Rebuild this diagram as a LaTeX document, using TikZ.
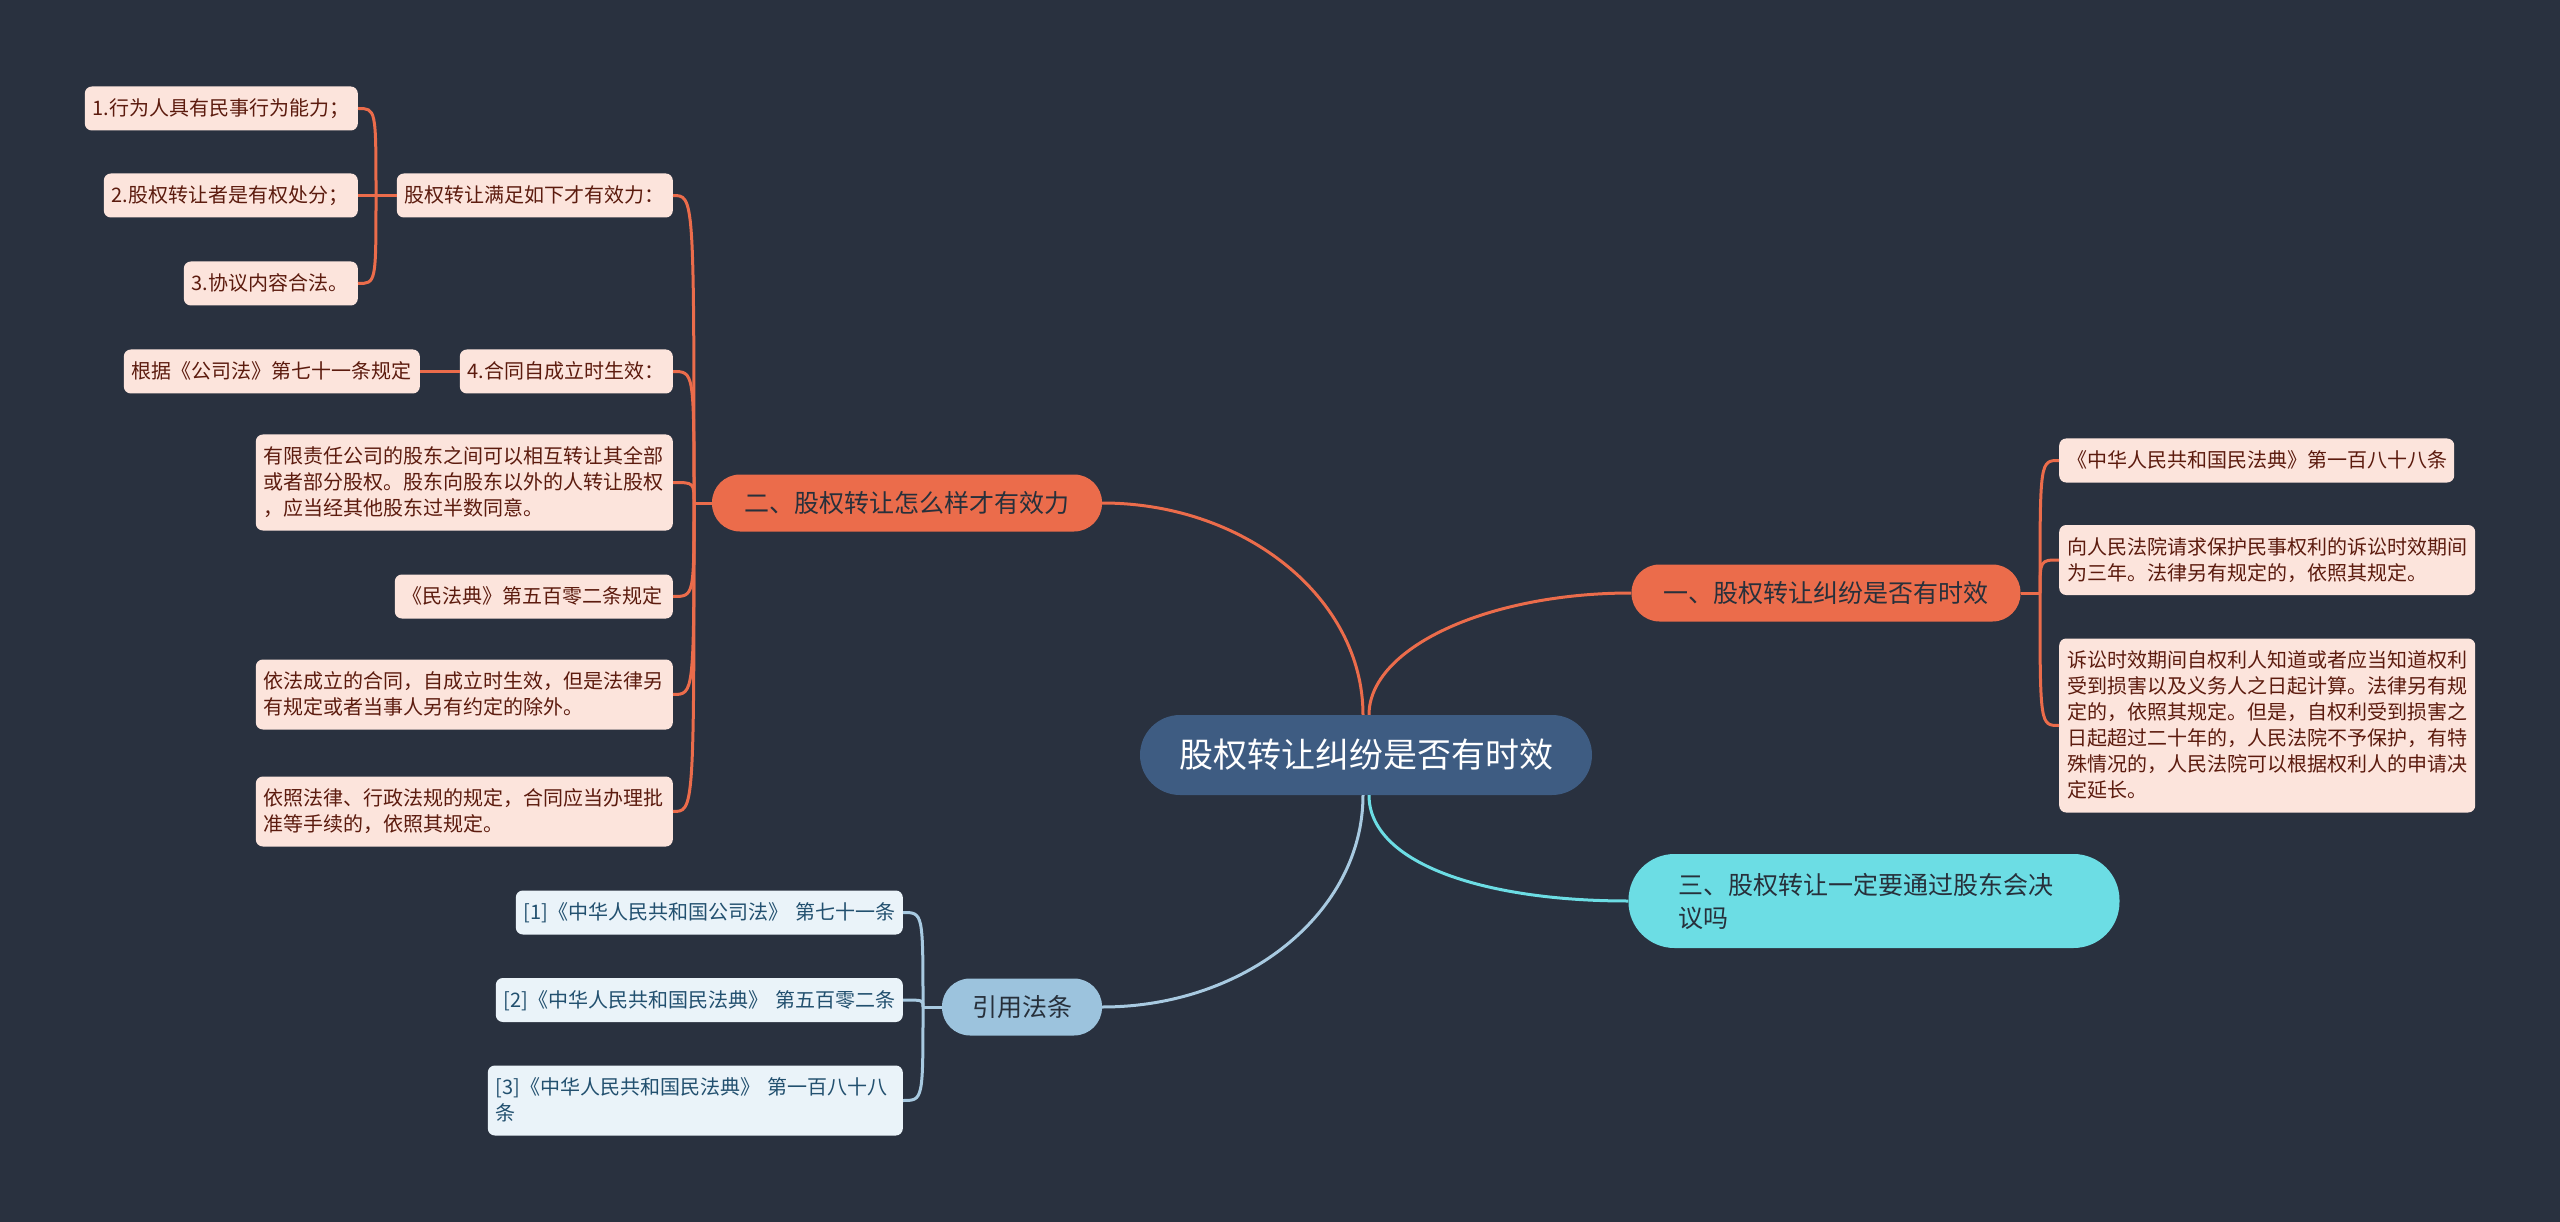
\documentclass[tikz,border=0pt]{standalone}
\usepackage{fontspec}
\setmainfont{Noto Sans CJK SC}
\usetikzlibrary{positioning}

\definecolor{bgdark}{HTML}{29313F}
\definecolor{rootblue}{HTML}{3E5C82}
\definecolor{orangemain}{HTML}{EB6C4B}
\definecolor{orangeleaf}{HTML}{FCE4DC}
\definecolor{orangetext}{HTML}{5C1B0E}
\definecolor{cyanmain}{HTML}{6CDDE4}
\definecolor{bluemain}{HTML}{9CC3DD}
\definecolor{blueline}{HTML}{A8CAE1}
\definecolor{blueleaf}{HTML}{EAF3F9}
\definecolor{bluetext}{HTML}{22506F}
\definecolor{darktext}{HTML}{27303B}

\newcommand{\leafstrut}{\rule[-6pt]{0pt}{26pt}}

\begin{document}
\begin{tikzpicture}[x=1pt, y=-1pt,
    rootnode/.style={fill=rootblue, text=white, rounded corners=40pt, minimum width=452pt, minimum height=80pt, font=\fontsize{34}{40}\selectfont},
    branchnode/.style={fill=#1, text=darktext, rounded corners=28pt, minimum height=57pt, font=\fontsize{25}{33}\selectfont},
    leafnode/.style={fill=orangeleaf, text=orangetext, rounded corners=7pt, inner xsep=8pt, inner ysep=9pt, align=left, font=\fontsize{20}{26}\selectfont, execute at begin node=\leafstrut, execute at end node=\leafstrut},
    refnode/.style={leafnode, fill=blueleaf, text=bluetext},
    linkline/.style={draw=#1, line width=3pt}
]

    % Background
    \fill[bgdark] (0,0) rectangle (2560,1222);

    % Root and main branches
    \node[rootnode] (root) at (1366,755) {股权转让纠纷是否有时效};
    \node[branchnode=orangemain, minimum width=389pt] (b1) at (1826,593) {一、股权转让纠纷是否有时效};
    \node[branchnode=orangemain, minimum width=390pt] (b2) at (907,503) {二、股权转让怎么样才有效力};
    \node[branchnode=cyanmain, text width=391pt, inner xsep=50pt, align=left, minimum height=94pt, rounded corners=46pt] (b3) at (1874,901) {三、股权转让一定要通过股东会决\\议吗};
    \node[branchnode=bluemain, minimum width=160pt] (b4) at (1022,1007) {引用法条};

    \draw[linkline=orangemain] ([xshift=3pt]root.north) .. controls (1369,648) and (1487,593) .. (b1.west);
    \draw[linkline=orangemain] ([xshift=-3pt]root.north) .. controls (1363,599) and (1246,503) .. (b2.east);
    \draw[linkline=cyanmain] ([xshift=3pt]root.south) .. controls (1369,862) and (1480,901) .. (b3.west);
    \draw[linkline=blueline] ([xshift=-3pt]root.south) .. controls (1363,912) and (1246,1007) .. (b4.east);

    % Branch one leaves
    \node[leafnode, anchor=west, text width=379pt] (c1) at (2059,460.5) {《中华人民共和国民法典》第一百八十八条};
    \node[leafnode, anchor=west, text width=400pt] (c2) at (2059,560) {向人民法院请求保护民事权利的诉讼时效期间\\为三年。法律另有规定的，依照其规定。};
    \node[leafnode, anchor=west, text width=400pt] (c3) at (2059,725.5) {诉讼时效期间自权利人知道或者应当知道权利\\受到损害以及义务人之日起计算。法律另有规\\定的，依照其规定。但是，自权利受到损害之\\日起超过二十年的，人民法院不予保护，有特\\殊情况的，人民法院可以根据权利人的申请决\\定延长。};

    \coordinate (j1) at (2040,593);
    \draw[linkline=orangemain] (b1.east) -- (j1);
    \foreach \c in {c1,c2,c3}
        \draw[linkline=orangemain] (j1) .. controls (j1 |- \c.west) .. (\c.west);

    % Branch two leaves
    \node[leafnode, anchor=east, text width=260pt] (v1) at (673,195.5) {股权转让满足如下才有效力：};
    \node[leafnode, anchor=east, text width=257pt] (n1) at (358,108.5) {1.行为人具有民事行为能力；};
    \node[leafnode, anchor=east, text width=238pt] (n2) at (358,195.5) {2.股权转让者是有权处分；};
    \node[leafnode, anchor=east, text width=158pt] (n3) at (358,283.5) {3.协议内容合法。};
    \node[leafnode, anchor=east, text width=197pt] (v4) at (673,371.5) {4.合同自成立时生效：};
    \node[leafnode, anchor=east, text width=280pt] (law1) at (420,371.5) {根据《公司法》第七十一条规定};
    \node[leafnode, anchor=east, text width=401pt] (t1) at (673,482.5) {有限责任公司的股东之间可以相互转让其全部\\或者部分股权。股东向股东以外的人转让股权\\，应当经其他股东过半数同意。};
    \node[leafnode, anchor=east, text width=262pt] (t2) at (673,596.5) {《民法典》第五百零二条规定};
    \node[leafnode, anchor=east, text width=401pt] (t3) at (673,694.5) {依法成立的合同，自成立时生效，但是法律另\\有规定或者当事人另有约定的除外。};
    \node[leafnode, anchor=east, text width=401pt] (t4) at (673,811.5) {依照法律、行政法规的规定，合同应当办理批\\准等手续的，依照其规定。};

    \coordinate (j2) at (694,503);
    \draw[linkline=orangemain] (b2.west) -- (j2);
    \foreach \c in {v1,v4,t1,t2,t3,t4}
        \draw[linkline=orangemain] (j2) .. controls (j2 |- \c.east) .. (\c.east);

    \coordinate (j3) at (376,195.5);
    \draw[linkline=orangemain] (v1.west) -- (j3);
    \foreach \c in {n1,n2,n3}
        \draw[linkline=orangemain] (j3) .. controls (j3 |- \c.east) .. (\c.east);

    \draw[linkline=orangemain] (v4.west) -- (law1.east);

    % Cited articles
    \node[refnode, anchor=east, text width=371pt] (r1) at (903,912.5) {[1]《中华人民共和国公司法》~第七十一条};
    \node[refnode, anchor=east, text width=391pt] (r2) at (903,1000) {[2]《中华人民共和国民法典》~第五百零二条};
    \node[refnode, anchor=east, text width=399pt] (r3) at (903,1100.5) {[3]《中华人民共和国民法典》~第一百八十八\\条};

    \coordinate (j4) at (923,1007);
    \draw[linkline=blueline] (b4.west) -- (j4);
    \foreach \c in {r1,r2,r3}
        \draw[linkline=blueline] (j4) .. controls (j4 |- \c.east) .. (\c.east);
\end{tikzpicture}
\end{document}
